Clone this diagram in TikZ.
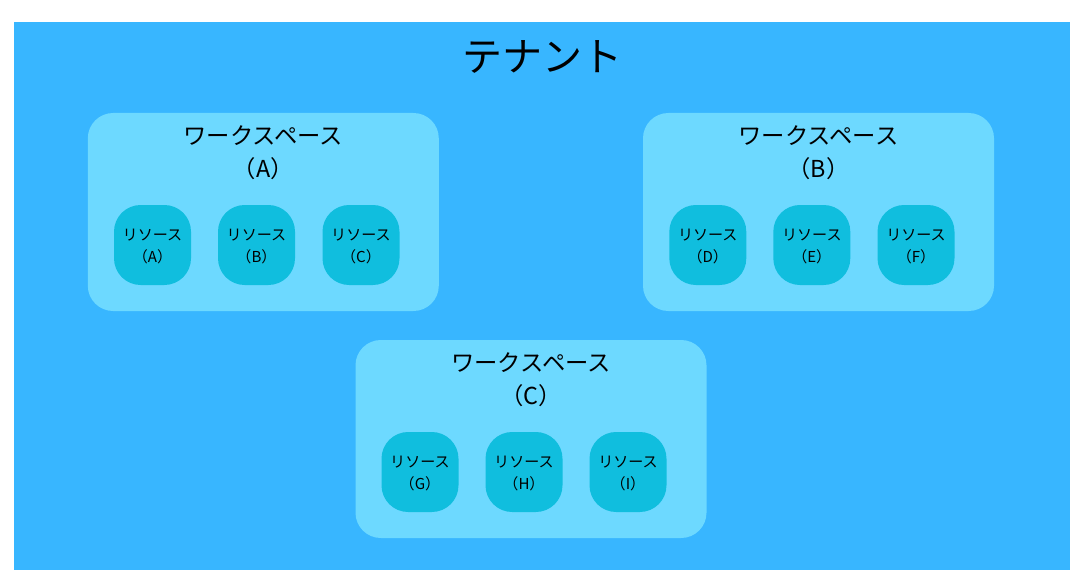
\documentclass[tikz,border=0pt]{standalone}
\usepackage{fontspec}
\setmainfont{Noto Sans CJK JP}
\definecolor{tenantblue}{HTML}{38B6FF}
\definecolor{wsblue}{HTML}{6DD9FF}
\definecolor{resblue}{HTML}{10BEDE}
\begin{document}
\begin{tikzpicture}[x=0.75pt,y=-0.75pt,
  tenant/.style={fill=tenantblue,draw=none,inner sep=0pt,minimum width=1056*0.75pt,minimum height=548*0.75pt},
  wsbox/.style={fill=wsblue,draw=none,rounded corners=19pt,inner sep=0pt,minimum width=351*0.75pt,minimum height=198*0.75pt},
  resbox/.style={fill=resblue,draw=none,rounded corners=20pt,inner sep=0pt,minimum width=77*0.75pt,minimum height=80*0.75pt},
  reslabel/.style={align=center,inner sep=0pt,font=\fontsize{11.3pt}{16.5pt}\selectfont,text=black},
  wslabel/.style={anchor=north,align=center,inner sep=0pt,font=\fontsize{17.5pt}{24.5pt}\selectfont,text=black},
  title/.style={font=\fontsize{30pt}{36pt}\selectfont,text=black,inner sep=0pt}]
\useasboundingbox (0,0) rectangle (1092,588);
\node[tenant] (tenant) at (542,296) {};
\node[title] (tt) at (542,57) {テナント};
% Workspace A
\node[wsbox] (wsA) at (263.3,212) {};
\node[wslabel] (wsAl) at ([yshift=-9.5pt]wsA.north) {ワークスペース\\（A）};
\node[resbox] (rA) at (152.5,245) {};
\node[resbox] (rB) at (256.5,245) {};
\node[resbox] (rC) at (361,245) {};
\node[reslabel] (lA) at ([yshift=-1.5pt]rA.center) {リソース\\（A）};
\node[reslabel] (lB) at ([yshift=-1.5pt]rB.center) {リソース\\（B）};
\node[reslabel] (lC) at ([yshift=-1.5pt]rC.center) {リソース\\（C）};
% Workspace B
\node[wsbox] (wsB) at (818.5,212) {};
\node[wslabel] (wsBl) at ([yshift=-9.5pt]wsB.north) {ワークスペース\\（B）};
\node[resbox] (rD) at (707.8,245) {};
\node[resbox] (rE) at (811.8,245) {};
\node[resbox] (rF) at (916,245) {};
\node[reslabel] (lD) at ([yshift=-1.5pt]rD.center) {リソース\\（D）};
\node[reslabel] (lE) at ([yshift=-1.5pt]rE.center) {リソース\\（E）};
\node[reslabel] (lF) at ([yshift=-1.5pt]rF.center) {リソース\\（F）};
% Workspace C
\node[wsbox] (wsC) at (531,439) {};
\node[wslabel] (wsCl) at ([yshift=-9.5pt]wsC.north) {ワークスペース\\（C）};
\node[resbox] (rG) at (420,472) {};
\node[resbox] (rH) at (524,472) {};
\node[resbox] (rI) at (628,472) {};
\node[reslabel] (lG) at ([yshift=-1.5pt]rG.center) {リソース\\（G）};
\node[reslabel] (lH) at ([yshift=-1.5pt]rH.center) {リソース\\（H）};
\node[reslabel] (lI) at ([yshift=-1.5pt]rI.center) {リソース\\（I）};
\end{tikzpicture}
\end{document}
